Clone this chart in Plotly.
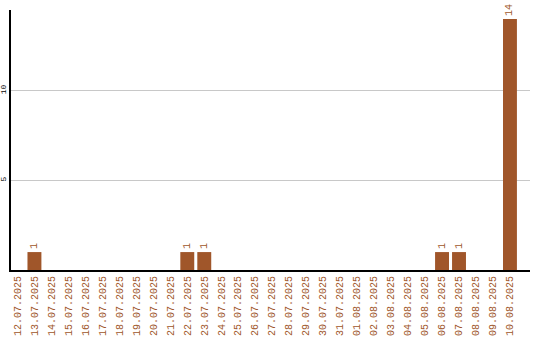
import plotly.graph_objects as go

# Daily counts, 12.07.2025 – 10.08.2025
dates = [
    "12.07.2025", "13.07.2025", "14.07.2025", "15.07.2025", "16.07.2025",
    "17.07.2025", "18.07.2025", "19.07.2025", "20.07.2025", "21.07.2025",
    "22.07.2025", "23.07.2025", "24.07.2025", "25.07.2025", "26.07.2025",
    "27.07.2025", "28.07.2025", "29.07.2025", "30.07.2025", "31.07.2025",
    "01.08.2025", "02.08.2025", "03.08.2025", "04.08.2025", "05.08.2025",
    "06.08.2025", "07.08.2025", "08.08.2025", "09.08.2025", "10.08.2025",
]
counts = [
    0, 1, 0, 0, 0,
    0, 0, 0, 0, 0,
    1, 1, 0, 0, 0,
    0, 0, 0, 0, 0,
    0, 0, 0, 0, 0,
    1, 1, 0, 0, 14,
]

BAR = "#A0562A"
labels = [str(v) if v else "" for v in counts]

fig = go.Figure(
    go.Bar(
        x=dates,
        y=counts,
        marker=dict(color=BAR, line=dict(width=0)),
        width=0.82,
        text=labels,
        textposition="outside",
        textangle=-90,
        textfont=dict(family="Liberation Mono", size=10, color=BAR),
        cliponaxis=False,
    )
)

fig.update_layout(
    width=540,
    height=340,
    margin=dict(l=11, r=10, t=10, b=70),
    paper_bgcolor="white",
    plot_bgcolor="white",
    showlegend=False,
    xaxis=dict(
        type="category",
        range=[-0.38, 30.18],
        tickangle=-90,
        tickfont=dict(family="Liberation Mono", size=10, color=BAR),
        showline=True,
        linecolor="black",
        linewidth=2,
        showgrid=False,
        ticks="",
        zeroline=False,
        automargin=False,
    ),
    yaxis=dict(
        range=[0, 14.5],
        tickvals=[5, 10],
        tickangle=-90,
        tickfont=dict(family="Liberation Mono", size=8, color="black"),
        showline=True,
        linecolor="black",
        linewidth=2,
        showgrid=True,
        gridcolor="#c8c8c8",
        gridwidth=1,
        ticks="",
        zeroline=False,
        automargin=False,
    ),
)

fig.write_html("out.html")
